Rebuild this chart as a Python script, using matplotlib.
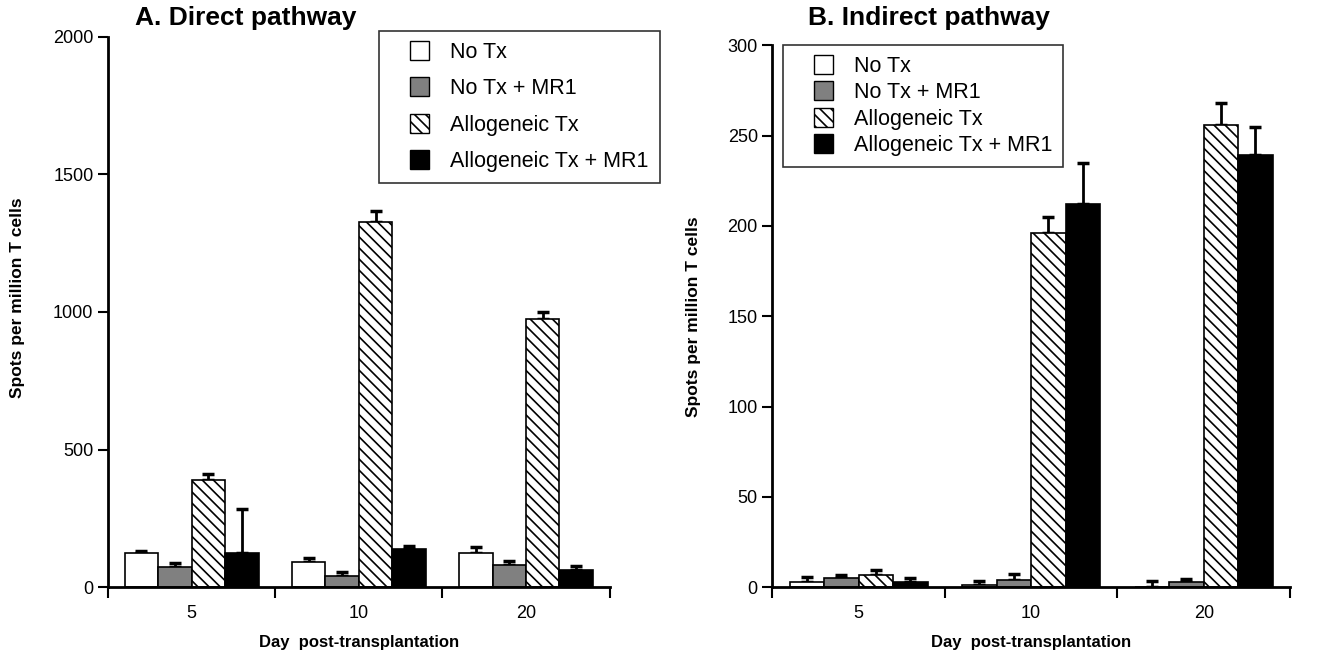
import matplotlib
matplotlib.use("Agg")
import matplotlib.pyplot as plt
import numpy as np
from matplotlib.patches import Patch, Rectangle
from matplotlib.legend_handler import HandlerPatch

plt.rcParams['font.family'] = ['Liberation Sans', 'DejaVu Sans']
plt.rcParams['hatch.linewidth'] = 1.2

days = ['5', '10', '20']
series = ['No Tx', 'No Tx + MR1', 'Allogeneic Tx', 'Allogeneic Tx + MR1']
colors = ['white', '#808080', 'white', 'black']
hatches = [None, None, '\\\\\\', None]

# panel A: direct pathway
direct = [[125, 93, 125],
          [73, 42, 82],
          [390, 1325, 975],
          [125, 140, 62]]
direct_err = [[8, 12, 20],
              [15, 12, 12],
              [22, 40, 25],
              [160, 8, 15]]

# panel B: indirect pathway
indirect = [[3, 1, 0],
            [5, 4, 3],
            [6.5, 196, 256],
            [3, 212, 239]]
indirect_err = [[2.5, 2.5, 3.5],
                [1.5, 3, 1.5],
                [3, 9, 12],
                [2, 23, 16]]


def square(legend, orig_handle, xdescent, ydescent, width, height, fontsize):
    # small square sitting at the right end of the handle box
    s = 0.88 * fontsize
    return Rectangle((-xdescent + width - s, -ydescent + height / 2 - s / 2), s, s)


def draw(ax, vals, errs, ymax, ystep, leg_kw):
    x = np.arange(len(days))
    w = 0.2
    for i in range(4):
        v = np.array(vals[i], dtype=float)
        e = np.array(errs[i], dtype=float)
        ax.bar(x + (i - 1.5) * w, v, w, color=colors[i], edgecolor='black',
               linewidth=1.2, hatch=hatches[i], zorder=2,
               yerr=[np.zeros_like(e), e], capsize=4,
               error_kw=dict(elinewidth=2, capthick=2.5, ecolor='black', zorder=1))
    ax.set_xlim(-0.5, 2.5)
    ax.set_ylim(0, ymax)
    ax.set_yticks(np.arange(0, ymax + 1, ystep))
    ax.set_xticks(np.arange(-0.5, 3, 1))
    ax.set_xticklabels([])
    ax.set_xticks(x, minor=True)
    ax.set_xticklabels(days, minor=True)
    ax.tick_params(axis='x', which='minor', length=0, labelsize=13, pad=13)
    ax.tick_params(axis='x', which='major', length=8, width=1.5)
    ax.tick_params(axis='y', length=7, width=1.5, labelsize=13)
    for s in ['top', 'right']:
        ax.spines[s].set_visible(False)
    for s in ['left', 'bottom']:
        ax.spines[s].set_linewidth(2)
    ax.set_ylabel('Spots per million T cells', fontsize=12.5, fontweight='bold')
    ax.set_xlabel('Day  post-transplantation', fontsize=12, fontweight='bold', labelpad=9)
    handles = [Patch(facecolor=colors[i], edgecolor='black', hatch=hatches[i]) for i in range(4)]
    leg = ax.legend(handles, series, fancybox=False, edgecolor='black', fontsize=15.5,
                    handlelength=1.82, handleheight=0.7, handletextpad=1.0,
                    borderpad=0.5, loc='upper left', borderaxespad=0,
                    handler_map={Patch: HandlerPatch(patch_func=square)}, **leg_kw)
    leg.get_frame().set_linewidth(1.2)


fig = plt.figure(figsize=(13.34, 6.56), dpi=100)
axA = fig.add_axes([0.081, 0.105, 0.376, 0.839])
axB = fig.add_axes([0.579, 0.105, 0.388, 0.826])

draw(axA, direct, direct_err, 2000, 500,
     dict(bbox_to_anchor=(0.54, 1.01), labelspacing=0.72))
draw(axB, indirect, indirect_err, 300, 50,
     dict(bbox_to_anchor=(0.02, 1.0), labelspacing=0.25))
axA.yaxis.set_label_coords(-0.165, 0.525)
axB.yaxis.set_label_coords(-0.138, 0.5)

fig.text(135 / 1334, 1 - 18 / 656, 'A. Direct pathway', fontsize=19, fontweight='bold',
         ha='left', va='center')
fig.text(808 / 1334, 1 - 18 / 656, 'B. Indirect pathway', fontsize=19, fontweight='bold',
         ha='left', va='center')

fig.savefig('out.png', dpi=100)
